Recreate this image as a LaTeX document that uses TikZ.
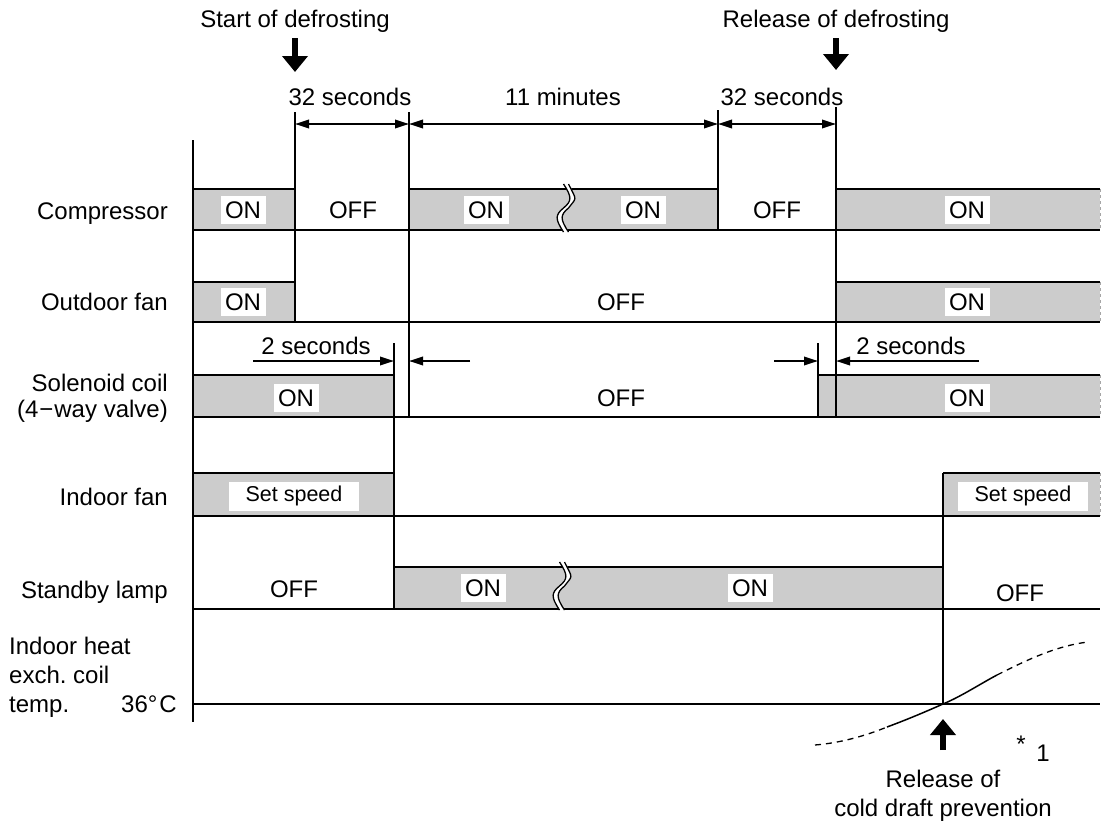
\documentclass[tikz,border=0pt]{standalone}
\usepackage{fontspec}
\setmainfont{Liberation Sans}
\usetikzlibrary{arrows.meta}
\definecolor{barg}{gray}{0.80}
\frenchspacing
\begin{document}
\begin{tikzpicture}[x=1pt,y=-1pt,
  font=\fontsize{24}{28}\selectfont,
  sig/.style={line width=2.2pt},
  tline/.style={line width=1.8pt},
  edge/.style={draw=black!35, dashed, line width=0.9pt},
  txt/.style={inner sep=0pt, text height=17.2pt, text depth=0pt},
  lbl/.style={fill=white, inner xsep=4.5pt, inner ysep=5.4pt, text height=17.2pt, text depth=0pt},
  spd/.style={fill=white, inner sep=0pt, minimum width=130pt, minimum height=29pt, font=\fontsize{21.5}{25}\selectfont},
  dimarr/.style={line width=1.8pt, -{Triangle[length=14pt,width=8.5pt]}},
  dimboth/.style={line width=1.8pt, {Triangle[length=14pt,width=8.5pt]}-{Triangle[length=14pt,width=8.5pt]}},
  bigdown/.style={line width=5.5pt, -{Triangle[length=16pt,width=25pt]}},
  brk/.pic={
    \fill[white] (-2.5,-3) .. controls (6,10) and (6,14) .. (-2.5,21) .. controls (-11,28) and (-11,32) .. (-2.5,45)
      -- (2.5,45) .. controls (-6,32) and (-6,28) .. (2.5,21) .. controls (11,14) and (11,10) .. (2.5,-3) -- cycle;
    \draw[line width=1.3pt] (-2.5,-3) .. controls (6,10) and (6,14) .. (-2.5,21) .. controls (-11,28) and (-11,32) .. (-2.5,45);
    \draw[line width=1.3pt] (2.5,-3) .. controls (11,14) and (11,10) .. (2.5,21) .. controls (-6,28) and (-6,32) .. (2.5,45);
  }]
\useasboundingbox (0,0) rectangle (1101,827);

% axis coordinates
\coordinate (axT) at (193,140);
\coordinate (axB) at (193,722);

% ---------- gray bars ----------
\fill[barg] (193,189) rectangle (295,230);
\fill[barg] (409,189) rectangle (718,230);
\fill[barg] (836,189) rectangle (1100,230);
\fill[barg] (193,282) rectangle (295,322);
\fill[barg] (836,282) rectangle (1100,322);
\fill[barg] (193,375) rectangle (394,417);
\fill[barg] (818,375) rectangle (1100,417);
\fill[barg] (193,473) rectangle (394,516);
\fill[barg] (943,473) rectangle (1100,516);
\fill[barg] (394,567) rectangle (943,609);

% right dashed edges
\draw[edge] (1100,189) -- (1100,230);
\draw[edge] (1100,282) -- (1100,322);
\draw[edge] (1100,375) -- (1100,417);
\draw[edge] (1100,473) -- (1100,516);

% ---------- signal lines ----------
\draw[sig] (193,189) -- (295,189) (409,189) -- (718,189) (836,189) -- (1100,189);
\draw[sig] (193,230) -- (1100,230);
\draw[sig] (193,282) -- (295,282) (836,282) -- (1100,282);
\draw[sig] (193,322) -- (1100,322);
\draw[sig] (193,375) -- (394,375) (818,375) -- (1100,375);
\draw[sig] (193,417) -- (1100,417);
\draw[sig] (193,473) -- (394,473) (943,473) -- (1100,473);
\draw[sig] (193,516) -- (1100,516);
\draw[sig] (394,567) -- (943,567);
\draw[sig] (193,609) -- (1100,609);
\draw[sig] (193,704) -- (1100,704);

% axis
\draw[tline] (axT) -- (axB);

% ---------- timing lines ----------
\coordinate (t1a) at (295,112); \coordinate (t1b) at (295,322);
\coordinate (t2a) at (409,112); \coordinate (t2b) at (409,417);
\coordinate (t3a) at (718,110); \coordinate (t3b) at (718,230);
\coordinate (t4a) at (836,107); \coordinate (t4b) at (836,417);
\coordinate (s1a) at (394,343); \coordinate (s1b) at (394,609);
\coordinate (s2a) at (818,343); \coordinate (s2b) at (818,417);
\coordinate (t5a) at (943,473); \coordinate (t5b) at (943,704);
\draw[tline] (t1a) -- (t1b);
\draw[tline] (t2a) -- (t2b);
\draw[tline] (t3a) -- (t3b);
\draw[tline] (t4a) -- (t4b);
\draw[tline] (s1a) -- (s1b);
\draw[tline] (s2a) -- (s2b);
\draw[tline] (t5a) -- (t5b);

% break symbols
\pic at (566,187) {brk};
\pic at (562,565) {brk};

% ---------- top annotations ----------
\node[txt] (start) at (295,19) {Start of defrosting};
\node[txt] (release) at (836,19) {Release of defrosting};
\coordinate (sa) at (295,38); \coordinate (sb) at (295,72);
\coordinate (ra) at (836,38); \coordinate (rb) at (836,70);
\draw[bigdown] (sa) -- (sb);
\draw[bigdown] (ra) -- (rb);

\node[txt] (d1) at (350,97) {32 seconds};
\node[txt] (d2) at (563,97) {11 minutes};
\node[txt] (d3) at (782,97) {32 seconds};
\coordinate (p1) at (295,124); \coordinate (p2) at (409,124);
\coordinate (p3) at (718,124); \coordinate (p4) at (836,124);
\draw[dimboth] (p1) -- (p2);
\draw[dimboth] (p2) -- (p3);
\draw[dimboth] (p3) -- (p4);

% 2 seconds dimensions
\node[txt] (s2l) at (316,346) {2 seconds};
\node[txt] (s2r) at (911,346) {2 seconds};
\coordinate (q1) at (253,361); \coordinate (q2) at (394,361);
\coordinate (q3) at (470,361); \coordinate (q4) at (409,361);
\coordinate (q5) at (774,361); \coordinate (q6) at (818,361);
\coordinate (q7) at (979,361); \coordinate (q8) at (836,361);
\draw[dimarr] (q1) -- (q2);
\draw[dimarr] (q3) -- (q4);
\draw[dimarr] (q5) -- (q6);
\draw[dimarr] (q7) -- (q8);

% ---------- row labels ----------
\node[txt, anchor=east] (lc) at (168,211) {Compressor};
\node[txt, anchor=east] (lo) at (168,302) {Outdoor fan};
\node[txt, anchor=east] (ls1) at (168,383) {Solenoid coil};
\node[txt, anchor=east] (ls2) at (168,409) {(4\kern1pt−\kern1pt way valve)};
\node[txt, anchor=east] (li) at (168,497) {Indoor fan};
\node[txt, anchor=east] (ll) at (168,590) {Standby lamp};
\node[txt, anchor=west] (lt1) at (9,646) {Indoor heat};
\node[txt, anchor=west] (lt2) at (9,675) {exch. coil};
\node[txt, anchor=west] (lt3) at (9,704) {temp.};
\node[txt, anchor=east] (lt4) at (177,704) {36°\kern2pt C};

% ---------- state labels ----------
\node[lbl] (c1) at (243,210) {ON};
\node[txt] (c2) at (353,210) {OFF};
\node[lbl] (c3) at (486,210) {ON};
\node[lbl] (c4) at (643,210) {ON};
\node[txt] (c5) at (777,210) {OFF};
\node[lbl] (c6) at (967,210) {ON};

\node[lbl] (o1) at (243,302) {ON};
\node[txt] (o2) at (621,302) {OFF};
\node[lbl] (o3) at (967,302) {ON};

\node[lbl] (v1) at (296,398) {ON};
\node[txt] (v2) at (621,398) {OFF};
\node[lbl] (v3) at (967,398) {ON};

\node[spd] (f1) at (294,496) {Set speed};
\node[spd] (f2) at (1023,496) {Set speed};

\node[txt] (b1) at (294,589) {OFF};
\node[lbl] (b2) at (483,588) {ON};
\node[lbl] (b3) at (750,588) {ON};
\node[txt] (b4) at (1020,593) {OFF};

% ---------- temperature curve ----------
\coordinate (k0) at (815,745);
\coordinate (k1) at (887,727);
\coordinate (k2) at (943,704);
\coordinate (k3) at (997,675);
\coordinate (k4) at (1088,642);
\draw[line width=1.3pt, dash pattern=on 6pt off 5pt] (k0) .. controls (840,743) and (865,736) .. (k1);
\draw[line width=1.5pt] (k1) .. controls (906,720) and (925,712) .. (k2) .. controls (962,696) and (980,684) .. (k3);
\draw[line width=1.3pt, dash pattern=on 6pt off 5pt] (k3) .. controls (1025,661) and (1055,646) .. (k4);

% up arrow and notes
\coordinate (ua) at (943,750); \coordinate (ub) at (943,719);
\draw[bigdown] (ua) -- (ub);
\node[txt] (ast) at (1021,744) {*};
\node[txt] (one) at (1043,753) {1};
\node[txt] (rel1) at (943,779) {Release of};
\node[txt] (rel2) at (943,808) {cold draft prevention};
\end{tikzpicture}
\end{document}
